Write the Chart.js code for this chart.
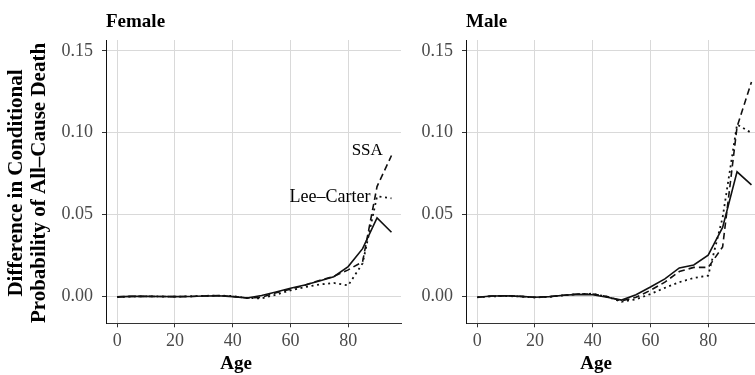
<!DOCTYPE html>
<html><head><meta charset="utf-8">
<script src="https://cdn.jsdelivr.net/npm/chart.js@4/dist/chart.umd.min.js"></script>
<style>
html,body{margin:0;padding:0;width:755px;height:375px;overflow:hidden;background:#fff;position:relative}
canvas{position:absolute;top:0}
#female{left:0}
#male{left:380px}
</style></head><body>
<canvas id="female" width="430" height="375" style="width:430px;height:375px"></canvas>
<canvas id="male" width="400" height="375" style="width:400px;height:375px"></canvas>
<script>
// ---- data ----
const ages = [0,5,10,15,20,25,30,35,40,45,50,55,60,65,70,75,80,85,90,95];

const femaleModel     = [-0.0005,-0.0002,-0.0002,-0.0003,-0.0004,-0.0003,0.0000,0.0002,-0.0004,-0.0012,0.0003,0.0025,0.0047,0.0068,0.0092,0.0118,0.0180,0.0290,0.0478,0.0390];
const femaleSSA       = [-0.0005,-0.0002,-0.0002,-0.0003,-0.0004,-0.0003,0.0000,0.0003,-0.0003,-0.0012,-0.0008,0.0020,0.0042,0.0066,0.0095,0.0120,0.0160,0.0210,0.0670,0.0860];
const femaleLeeCarter = [-0.0006,-0.0003,-0.0002,-0.0003,-0.0004,-0.0002,0.0001,0.0003,0.0000,-0.0013,-0.0014,0.0008,0.0035,0.0055,0.0070,0.0080,0.0065,0.0200,0.0610,0.0598];

const maleModel       = [-0.0008,0.0000,0.0002,-0.0002,-0.0008,-0.0004,0.0005,0.0010,0.0008,-0.0008,-0.0025,0.0008,0.0055,0.0105,0.0172,0.0190,0.0250,0.0420,0.0760,0.0680];
const maleSSA         = [-0.0008,0.0000,0.0002,-0.0002,-0.0008,-0.0004,0.0005,0.0012,0.0012,-0.0003,-0.0030,-0.0008,0.0035,0.0085,0.0150,0.0175,0.0175,0.0300,0.1035,0.1310];
const maleLeeCarter   = [-0.0008,-0.0002,0.0000,-0.0003,-0.0009,-0.0005,0.0004,0.0012,0.0014,-0.0005,-0.0035,-0.0020,0.0012,0.0050,0.0085,0.0110,0.0125,0.0480,0.1050,0.0998];

const xTicks = [0,20,40,60,80];
const yTicks = [0,0.05,0.10,0.15];
const seriesNames = ['Model','SSA','Lee–Carter'];
const yTitleLines = ['Difference in Conditional','Probability of All–Cause Death'];
const xTitle = 'Age';

const FONT = "'Liberation Serif', 'Times New Roman', serif";
Chart.defaults.font.family = FONT;

const textPlugin = {
  id: 'panelText',
  afterDraw(chart, args, o) {
    const ctx = chart.ctx, ca = chart.chartArea;
    ctx.save();
    ctx.fillStyle = '#000';
    ctx.font = 'bold 19px ' + FONT;
    ctx.textAlign = 'left'; ctx.textBaseline = 'alphabetic';
    ctx.fillText(o.title, ca.left, 27);
    ctx.textAlign = 'center';
    ctx.fillText(xTitle, ca.left + 130, 369);
    if (o.yTitle) {
      ctx.save();
      ctx.translate(22, 183);
      ctx.rotate(-Math.PI / 2);
      ctx.font = 'bold 21px ' + FONT;
      ctx.textAlign = 'center';
      ctx.fillText(yTitleLines[0], 0, 0);
      ctx.fillText(yTitleLines[1], 0, 23);
      ctx.restore();
    }
    if (o.labels) {
      ctx.textBaseline = 'middle';
      o.labels.forEach(l => {
        ctx.font = l.size + 'px ' + FONT;
        ctx.textAlign = l.align;
        ctx.fillText(l.text, chart.scales.x.getPixelForValue(l.x), chart.scales.y.getPixelForValue(l.y));
      });
    }
    ctx.restore();
  }
};

function makeChart(id, model, ssa, lc, opts) {
  const mk = arr => ages.map((a, i) => ({x: a, y: arr[i]}));
  return new Chart(document.getElementById(id), {
    type: 'line',
    data: {
      datasets: [
        {label: seriesNames[0], data: mk(model), borderColor: '#111', borderWidth: 1.6, pointRadius: 0, tension: 0, fill: false},
        {label: seriesNames[1], data: mk(ssa), borderColor: '#111', borderWidth: 1.6, borderDash: [6.5, 4], pointRadius: 0, tension: 0, fill: false},
        {label: seriesNames[2], data: mk(lc), borderColor: '#111', borderWidth: 1.8, borderDash: [2, 3.6], pointRadius: 0, tension: 0, fill: false}
      ]
    },
    options: {
      responsive: false, animation: false, events: [],
      layout: {padding: {left: 0, top: 40, right: opts.padRight, bottom: 0}},
      plugins: {legend: {display: false}, tooltip: {enabled: false}, panelText: opts.text},
      scales: {
        x: {
          type: 'linear', min: -3.9, max: 98.3,
          afterBuildTicks: s => { s.ticks = xTicks.map(v => ({value: v})); },
          afterFit: s => { s.height = 51.7; },
          ticks: {color: '#4a4a4a', font: {size: 18, family: FONT}, padding: 3, maxRotation: 0, callback: v => String(v)},
          grid: {color: '#d9d9d9', lineWidth: 1, tickLength: 4, tickColor: '#333', tickWidth: 1},
          border: {display: true, color: '#333', width: 1}
        },
        y: {
          type: 'linear', min: -0.0167, max: 0.1567,
          afterBuildTicks: s => { s.ticks = yTicks.map(v => ({value: v})); },
          afterFit: s => { s.width = opts.yWidth; },
          ticks: {color: '#4a4a4a', font: {size: 18, family: FONT}, padding: 9, callback: v => Number(v).toFixed(2)},
          grid: {color: '#d9d9d9', lineWidth: 1, tickLength: 4, tickColor: '#333', tickWidth: 1},
          border: {display: true, color: '#111', width: 1}
        }
      }
    },
    plugins: [textPlugin]
  });
}

makeChart('female', femaleModel, femaleSSA, femaleLeeCarter, {
  padRight: 29, yWidth: 106,
  text: {title: 'Female', yTitle: true, labels: [
    {text: 'SSA', x: 86.6, y: 0.0891, align: 'center', size: 17},
    {text: 'Lee–Carter', x: 87.7, y: 0.0606, align: 'right', size: 18}
  ]}
});
makeChart('male', maleModel, maleSSA, maleLeeCarter, {
  padRight: 19, yWidth: 86,
  text: {title: 'Male', yTitle: false}
});
</script>
</body></html>
